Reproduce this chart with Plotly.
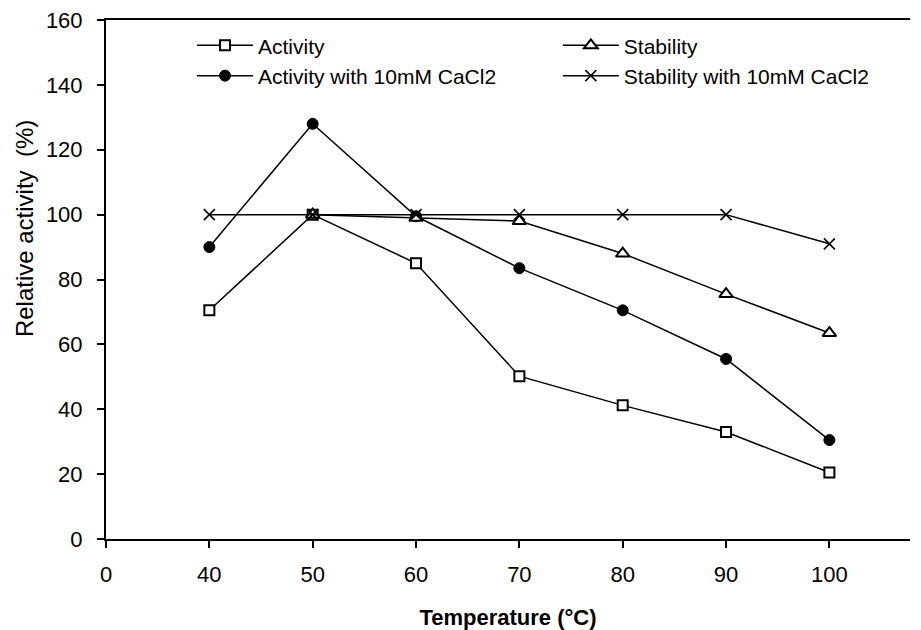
import plotly.graph_objects as go

categories = ["0", "40", "50", "60", "70", "80", "90", "100"]
temps = ["40", "50", "60", "70", "80", "90", "100"]
activity = [70.5, 100, 85, 50.2, 41.2, 33, 20.5]
stability = [None, 100, 99, 98, 88, 75.5, 63.5]
activity_ca = [90, 128, 99.5, 83.5, 70.5, 55.5, 30.5]
stability_ca = [100, 100, 100, 100, 100, 100, 91]
y_ticks = [0, 20, 40, 60, 80, 100, 120, 140, 160]

FONT = "Liberation Sans, Arial, sans-serif"
fig = go.Figure()

def add(name, y, symbol, size, lw, legend):
    fig.add_trace(go.Scatter(
        x=temps, y=y, name=name, mode="lines+markers", legend=legend,
        line=dict(color="black", width=1.5),
        marker=dict(symbol=symbol, size=size, color="black" if symbol in ("circle", "x-thin-open") else "white",
                    line=dict(color="black", width=lw)),
        connectgaps=False,
    ))

add("Activity", activity, "square", 10, 2, "legend")
add("Activity with 10mM CaCl2", activity_ca, "circle", 11, 1, "legend")
add("Stability", stability, "triangle-up", 12, 2, "legend2")
add("Stability with 10mM CaCl2", stability_ca, "x-thin-open", 11, 1.6, "legend2")

leg_common = dict(orientation="v", yanchor="top", xanchor="left", itemwidth=56,
                  font=dict(size=21), bgcolor="rgba(0,0,0,0)", tracegroupgap=0)

fig.update_layout(
    width=921, height=630,
    margin=dict(l=106, r=11, t=20, b=91),
    paper_bgcolor="white", plot_bgcolor="white",
    font=dict(family=FONT, size=22, color="black"),
    showlegend=True,
    legend=dict(x=0.107, y=0.99, **leg_common),
    legend2=dict(x=0.562, y=0.99, **leg_common),
    xaxis=dict(type="category", categoryorder="array", categoryarray=categories,
               range=[0, 7.78], showgrid=False, zeroline=False, automargin=False,
               showline=True, linecolor="black", linewidth=2, mirror=True,
               ticks="outside", ticklen=7, tickwidth=1.5, tickcolor="black",
               ticklabelstandoff=8,
               title=dict(text="<b>Temperature (°C)</b>", font=dict(size=22), standoff=24)),
    yaxis=dict(range=[0, 160], tickvals=y_ticks, showgrid=False, zeroline=False,
               showline=True, linecolor="black", linewidth=2, automargin=False,
               ticks="outside", ticklen=7, tickwidth=1.5, tickcolor="black",
               ticklabelstandoff=10),
    xaxis2=dict(overlaying="x", anchor="y", side="bottom", range=[0, 7.78],
                tickvals=list(range(len(categories))), showticklabels=False,
                ticks="inside", ticklen=9, tickwidth=1.5, tickcolor="black",
                showgrid=False, zeroline=False, showline=False),
    yaxis2=dict(overlaying="y", anchor="x", side="left", range=[0, 160],
                tickvals=y_ticks, showticklabels=False,
                ticks="inside", ticklen=4, tickwidth=1.5, tickcolor="black",
                showgrid=False, zeroline=False, showline=False),
    annotations=[dict(text="Relative activity  (%)", textangle=-90, xref="paper", yref="paper",
                      x=-0.102, y=0.599, xanchor="center", yanchor="middle", showarrow=False,
                      font=dict(size=24))],
)

fig.write_html("out.html", config={"displayModeBar": False},
               post_script="document.body.style.margin='0';")
